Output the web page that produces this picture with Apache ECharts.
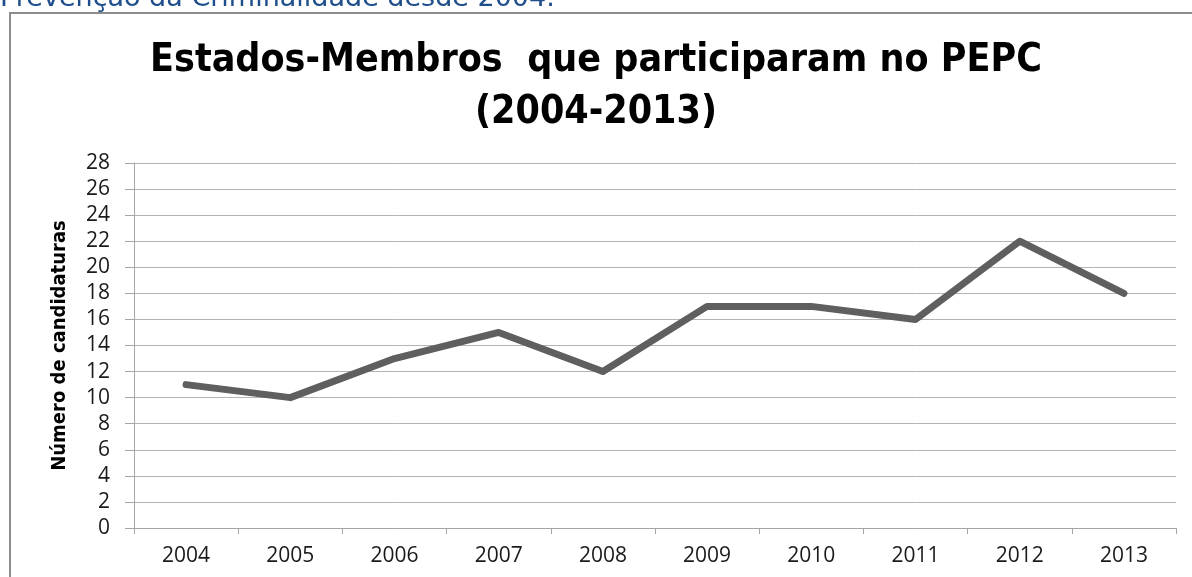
<!DOCTYPE html>
<html lang="pt">
  <head>
    <meta charset="UTF-8" />
    <title>PEPC</title>
    <script src="https://cdn.jsdelivr.net/npm/echarts@6/dist/echarts.min.js"></script>
    <style>
      html,
      body {
        margin: 0;
        padding: 0;
        background: #fff;
      }
      #main {
        width: 1192px;
        height: 577px;
      }
    </style>
  </head>
  <body>
    <div id="main"></div>
    <script>
      // dados
      const anos = ["2004", "2005", "2006", "2007", "2008", "2009", "2010", "2011", "2012", "2013"];
      const candidaturas = [11, 10, 13, 15, 12, 17, 17, 16, 22, 18];
      const tituloLinhas = ["Estados-Membros  que participaram no PEPC", "(2004-2013)"];
      const textoTopo = "Prevenção da Criminalidade desde 2004.";
      const nomeEixoY = "Número de candidaturas";

      const chart = echarts.init(document.getElementById("main"));

      const option = {
        animation: false,
        backgroundColor: "#fff",
        title: {
          text: tituloLinhas.join("\n"),
          left: 591,
          textAlign: "center",
          top: 30,
          textStyle: {
            fontFamily: "DejaVu Sans Condensed",
            fontWeight: "bold",
            fontSize: 39,
            lineHeight: 52,
            color: "#000",
          },
        },
        graphic: [
          {
            type: "rect",
            shape: { x: 10, y: 13, width: 1200, height: 600 },
            style: { fill: "none", stroke: "#8c8c8c", lineWidth: 2 },
            silent: true,
          },
          {
            type: "text",
            x: 0,
            y: 12,
            style: {
              text: textoTopo,
              fill: "#1F4E8C",
              font: "27px 'DejaVu Sans', sans-serif",
              align: "left",
              verticalAlign: "bottom",
            },
          },
        ],
        grid: {
          left: 134,
          right: 16,
          top: 163,
          bottom: 49,
        },
        xAxis: {
          type: "category",
          data: anos,
          boundaryGap: true,
          axisLine: { lineStyle: { color: "#a6a6a6", width: 1 } },
          axisTick: { show: true, length: 6, lineStyle: { color: "#a6a6a6" } },
          axisLabel: {
            margin: 18,
            color: "#1a1a1a",
            fontSize: 21,
            fontFamily: "Open Sans, sans-serif",
          },
          splitLine: { show: false },
        },
        yAxis: {
          type: "value",
          min: 0,
          max: 28,
          interval: 2,
          name: nomeEixoY,
          nameLocation: "middle",
          nameGap: 64,
          nameTextStyle: {
            fontFamily: "DejaVu Sans Condensed",
            fontWeight: "bold",
            fontSize: 20,
            color: "#000",
          },
          axisLine: { show: true, lineStyle: { color: "#a6a6a6", width: 1 } },
          axisTick: { show: true, length: 9, lineStyle: { color: "#a6a6a6" } },
          axisLabel: {
            margin: 24,
            color: "#1a1a1a",
            fontSize: 21,
            fontFamily: "Open Sans, sans-serif",
          },
          splitLine: { show: true, lineStyle: { color: "#b4b4b4", width: 1 } },
        },
        series: [
          {
            type: "line",
            data: candidaturas,
            symbol: "none",
            lineStyle: { color: "#5f5f5f", width: 7, cap: "round", join: "round" },
          },
        ],
      };

      chart.setOption(option);
    </script>
  </body>
</html>
